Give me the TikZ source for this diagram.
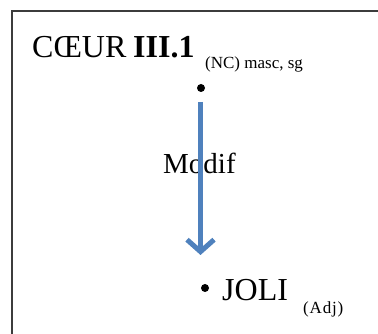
\documentclass[tikz,border=0pt]{standalone}
\usepackage{fontspec}
\setmainfont{Liberation Serif}
\usetikzlibrary{arrows.meta}
\definecolor{arrowblue}{RGB}{79,129,189}
\definecolor{framegray}{RGB}{60,60,60}
\tikzset{
  big/.style={inner sep=0pt, anchor=base west, font=\fontsize{32}{36}\selectfont},
  small/.style={inner sep=0pt, anchor=base west, font=\fontsize{17}{19}\selectfont},
  dotmark/.style={circle, fill=black, inner sep=0pt, minimum size=8pt},
  relarrow/.style={draw=arrowblue, line width=5pt,
    -{Straight Barb[length=12pt, width=27pt, line width=5pt]}},
  frameline/.style={draw=framegray, line width=1.5pt}
}
\begin{document}
\begin{tikzpicture}[x=1pt,y=-1pt]
\useasboundingbox (0,0) rectangle (378,334);
\coordinate (ftop) at (378,11);
\coordinate (fcorner) at (12,11);
\coordinate (fbot) at (12,334);
\draw[frameline] (ftop) -- (fcorner) -- (fbot);
\node[big] (coeur) at (32,58) {CŒUR};
\node[big] (num) at (133,58) {\textbf{III.1}};
\node[small] (sub) at (205,69) {(NC) masc, sg};
\node[dotmark] (d1) at (201,88) {};
\node[big, font=\fontsize{29}{33}\selectfont] (modif) at (163,174) {Modif};
\coordinate (a1) at (200.5,102);
\coordinate (a2) at (200.5,255);
\draw[relarrow] (a1) -- (a2);
\node[dotmark] (d2) at (205,288) {};
\node[big] (joli) at (222,300) {JOLI};
\node[small, font=\fontsize{17}{19}\selectfont\addfontfeature{LetterSpace=5}] (adj) at (303,313) {(Adj)};
\end{tikzpicture}
\end{document}
